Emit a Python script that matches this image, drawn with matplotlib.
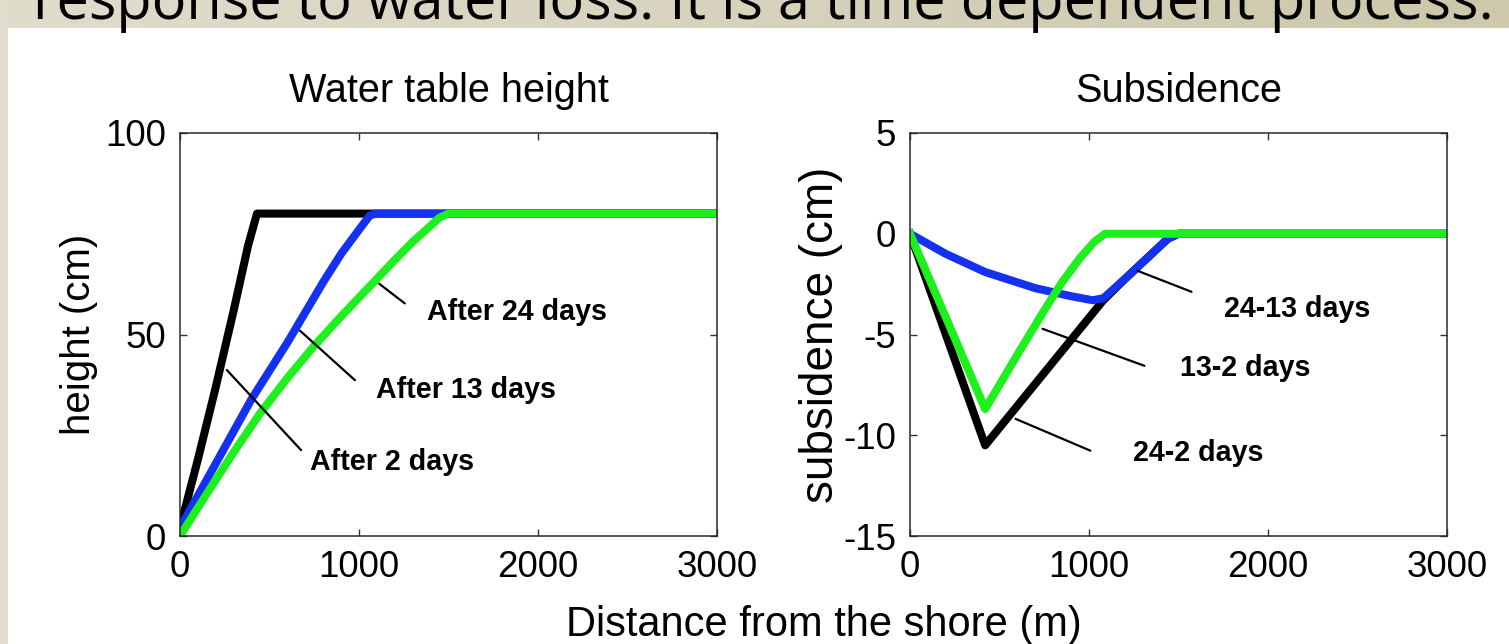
import matplotlib
matplotlib.use('Agg')
import matplotlib.pyplot as plt
import numpy as np
from matplotlib.colors import LinearSegmentedColormap

plt.rcParams['axes.unicode_minus'] = False

# water table height (cm) vs distance from shore (m)
x_2d = [0, 100, 200, 300, 380, 430, 3000]
h_2d = [2, 19, 37, 56, 72, 80, 80]
x_13d = [0, 100, 200, 300, 400, 500, 600, 700, 800, 900, 1000, 1060, 1090, 3000]
h_13d = [2, 10, 18, 26, 34, 41, 48, 55.5, 63, 70, 76, 79.5, 80, 80]
x_24d = [0, 150, 300, 450, 600, 750, 900, 1050, 1200, 1300, 1400, 1450, 1500, 3000]
h_24d = [0, 10.5, 20.8, 30.6, 39.2, 47.2, 54.5, 61.5, 68.5, 73, 77, 79, 80, 80]

# subsidence (cm) between the three times
x_s242 = [0, 420, 1080, 1200, 1350, 1440, 1500, 3000]
s_242 = [0, -10.5, -3.3, -2.25, -1.0, -0.25, 0, 0]
x_s2413 = [0, 200, 420, 700, 900, 1020, 1080, 1200, 1350, 1440, 1500, 3000]
s_2413 = [0, -1.0, -1.9, -2.7, -3.1, -3.3, -3.2, -2.25, -1.0, -0.25, 0, 0]
x_s132 = [0, 420, 500, 600, 750, 850, 950, 1030, 1090, 3000]
s_132 = [0, -8.7, -7.5, -6.0, -3.8, -2.4, -1.2, -0.4, 0, 0]

left_labels = ['After 24 days', 'After 13 days', 'After 2 days']
left_ptr = [((1101, 63.0), (1268, 57.3)), ((659, 51.4), (989, 38.2)), ((251, 41.7), (687, 20.8))]
left_txt = [(1380, 55.6), (1095, 36.2), (726, 18.4)]
right_labels = ['24-13 days', '13-2 days', '24-2 days']
right_ptr = [((1257, -1.79), (1587, -2.93)), ((726, -4.67), (1324, -6.6)), ((575, -9.13), (1022, -10.82))]
right_txt = [(1754, -3.72), (1508, -6.65), (1246, -10.87)]

BLUE = '#1430f0'
GREEN = '#1ef01e'
FONT = ['Liberation Sans', 'DejaVu Sans']

fig = plt.figure(figsize=(15.09, 6.44), dpi=100)

# slide background
bg = fig.add_axes([0, 0, 1, 1], zorder=-10)
cmap = LinearSegmentedColormap.from_list('slide', ['#e0ddcd', '#cdc7ab'])
bg.imshow(np.linspace(0, 1, 256)[None, :], aspect='auto', cmap=cmap, extent=[0, 1, 0, 1])
bg.add_patch(plt.Rectangle((8 / 1509, 0), 1, 1 - 28 / 644, color='white', lw=0))
bg.set_xlim(0, 1)
bg.set_ylim(0, 1)
bg.axis('off')

# slide text, cut off by the top edge as in the original
fig.text(33 / 1509, 1 - 19 / 644, 'response to water loss. It is a time dependent process.',
         fontsize=41.5, family=['Open Sans', 'DejaVu Sans'], va='baseline', ha='left')

ax1 = fig.add_axes([180 / 1509, 108 / 644, 537 / 1509, 403 / 644])
ax2 = fig.add_axes([910 / 1509, 108 / 644, 537 / 1509, 403 / 644])

ax1.plot(x_2d, h_2d, color='black', lw=5.8, solid_joinstyle='round')
ax1.plot(x_13d, h_13d, color=BLUE, lw=5.8, solid_joinstyle='round')
ax1.plot(x_24d, h_24d, color=GREEN, lw=5.8, solid_joinstyle='round')
ax1.set_ylim(0, 100)
ax1.set_yticks([0, 50, 100])
ax1.set_title('Water table height', fontsize=28.5, family=FONT, pad=22)
ax1.set_ylabel('height (cm)', fontsize=29, family=FONT, labelpad=5)
for lab, (p0, p1), pos in zip(left_labels, left_ptr, left_txt):
    ax1.annotate('', xy=p1, xytext=p0, arrowprops=dict(arrowstyle='-', lw=1.6, color='black'))
    ax1.text(pos[0], pos[1], lab, fontsize=20.6, fontweight='bold', family=FONT, va='center', ha='left')

ax2.plot(x_s242, s_242, color='black', lw=5.8, solid_joinstyle='round')
ax2.plot(x_s2413, s_2413, color=BLUE, lw=5.8, solid_joinstyle='round')
ax2.plot(x_s132, s_132, color=GREEN, lw=5.8, solid_joinstyle='round')
ax2.set_ylim(-15, 5)
ax2.set_yticks([-15, -10, -5, 0, 5])
ax2.set_title('Subsidence', fontsize=28.5, family=FONT, pad=22)
ax2.set_ylabel('subsidence (cm)', fontsize=33, family=FONT, labelpad=0)
for lab, (p0, p1), pos in zip(right_labels, right_ptr, right_txt):
    ax2.annotate('', xy=p1, xytext=p0, arrowprops=dict(arrowstyle='-', lw=1.6, color='black'))
    ax2.text(pos[0], pos[1], lab, fontsize=20.6, fontweight='bold', family=FONT, va='center', ha='left')

for ax in (ax1, ax2):
    ax.set_xlim(0, 3000)
    ax.set_xticks([0, 1000, 2000, 3000])
    ax.tick_params(direction='in', length=5, width=1, top=True, right=True,
                   labelsize=26.5, pad=10, color='#333333')
    for lbl in ax.get_xticklabels() + ax.get_yticklabels():
        lbl.set_family(FONT)
    for sp in ax.spines.values():
        sp.set_color('#2a2a2a')
        sp.set_linewidth(1.1)

fig.text(824 / 1509, 1 - 625 / 644, 'Distance from the shore (m)', fontsize=30, family=FONT,
         ha='center', va='center')

fig.savefig('out.png', dpi=100)
